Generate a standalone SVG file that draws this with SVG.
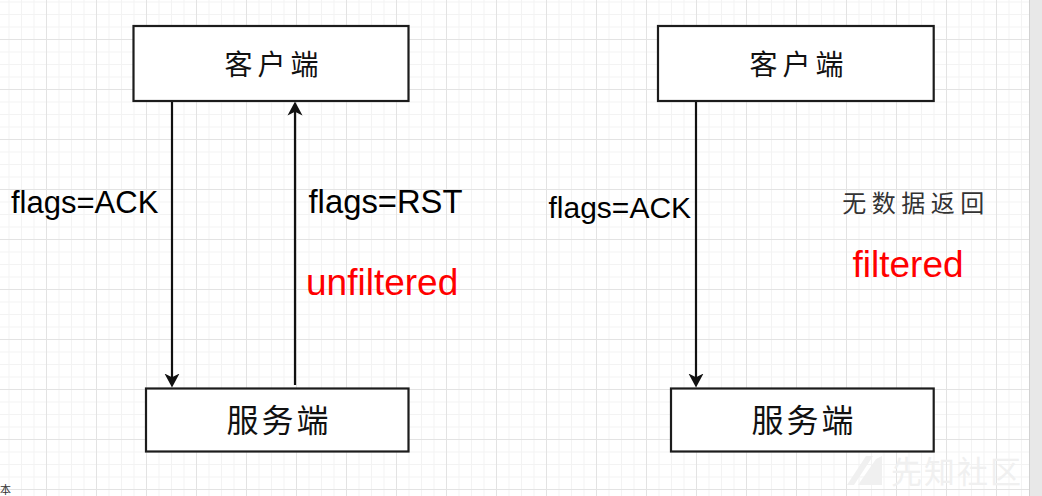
<svg xmlns="http://www.w3.org/2000/svg" width="1042" height="496" viewBox="0 0 1042 496">
  <defs>
    <pattern id="grid" patternUnits="userSpaceOnUse" x="-4" y="-11" width="50" height="50">
      <path d="M13,0V50M25.5,0V50M38,0V50M0,13H50M0,25.5H50M0,38H50" stroke="#f3f3f3" stroke-width="1" fill="none"/>
      <path d="M0.5,0V50M0,0.5H50" stroke="#e3e3e3" stroke-width="1" fill="none"/>
    </pattern>
    <marker id="arrow" viewBox="0 0 14 16" refX="6.5" refY="8" markerWidth="14" markerHeight="16" markerUnits="userSpaceOnUse" orient="auto">
      <path d="M0,0.5 L14,8 L0,15.5 L3.8,8 Z" fill="#111"/>
    </marker>
  </defs>
  <style>
    .box { fill: #ffffff; stroke: #1c1c1c; stroke-width: 2.2; }
    .cjk { font-family: "Noto Sans CJK SC", "Noto Sans", sans-serif; fill: #111; text-anchor: middle; }
    .lbl { font-family: "Liberation Sans", Arial, sans-serif; fill: #000; }
    .red { font-family: "Liberation Sans", Arial, sans-serif; fill: #ff0000; }
    .edge { stroke: #111; stroke-width: 2.2; fill: none; marker-end: url(#arrow); }
  </style>

  <rect x="0" y="0" width="1042" height="496" fill="#ffffff"/>
  <rect x="0" y="0" width="1029" height="496" fill="url(#grid)"/>
  <rect x="1029" y="0" width="13" height="496" fill="#e8e8e8"/>
  <line x1="1029.5" y1="0" x2="1029.5" y2="496" stroke="#d2d2d2" stroke-width="1"/>

  <g id="watermark">
    <polygon points="847,485 866,456 873,456 854,485" fill="#f0f0f0"/>
    <polygon points="858,485 876,459 882,456 882,485" fill="#f0f0f0"/>
    <text x="957" y="483" font-family="'Noto Sans CJK SC', sans-serif" font-size="31" fill="#f0f0f0" text-anchor="middle" letter-spacing="2">先知社区</text>
  </g>
  <text x="0" y="494" font-family="'Noto Sans CJK SC', sans-serif" font-size="11" fill="#333">本</text>

  <g id="connectors">
    <line class="edge" x1="172" y1="101" x2="172" y2="380"/>
    <line class="edge" x1="295" y1="385" x2="295" y2="109"/>
    <line class="edge" x1="696" y1="101" x2="696" y2="380"/>
  </g>

  <g id="client-left">
    <rect class="box" x="133.5" y="26" width="275" height="75"/>
    <text class="cjk" x="274" y="75" font-size="28" letter-spacing="5">客户端</text>
  </g>
  <g id="server-left">
    <rect class="box" x="146" y="388.5" width="262.5" height="63"/>
    <text class="cjk" x="279" y="432" font-size="32" letter-spacing="3">服务端</text>
  </g>
  <g id="client-right">
    <rect class="box" x="658" y="26" width="275.7" height="75"/>
    <text class="cjk" x="799" y="75" font-size="28" letter-spacing="5">客户端</text>
  </g>
  <g id="server-right">
    <rect class="box" x="671" y="388.5" width="262.7" height="63"/>
    <text class="cjk" x="804" y="432" font-size="32" letter-spacing="3">服务端</text>
  </g>

  <g id="labels">
    <text class="lbl" x="11" y="213" font-size="31">flags=ACK</text>
    <text class="lbl" x="308.5" y="213" font-size="32.8">flags=RST</text>
    <text class="red" x="306" y="295" font-size="37">unfiltered</text>
    <text class="lbl" x="548.5" y="218" font-size="30">flags=ACK</text>
    <text class="cjk" x="916" y="212" font-size="24" letter-spacing="5.5" style="fill:#333">无数据返回</text>
    <text class="red" x="852.5" y="277" font-size="37">filtered</text>
  </g>
</svg>
